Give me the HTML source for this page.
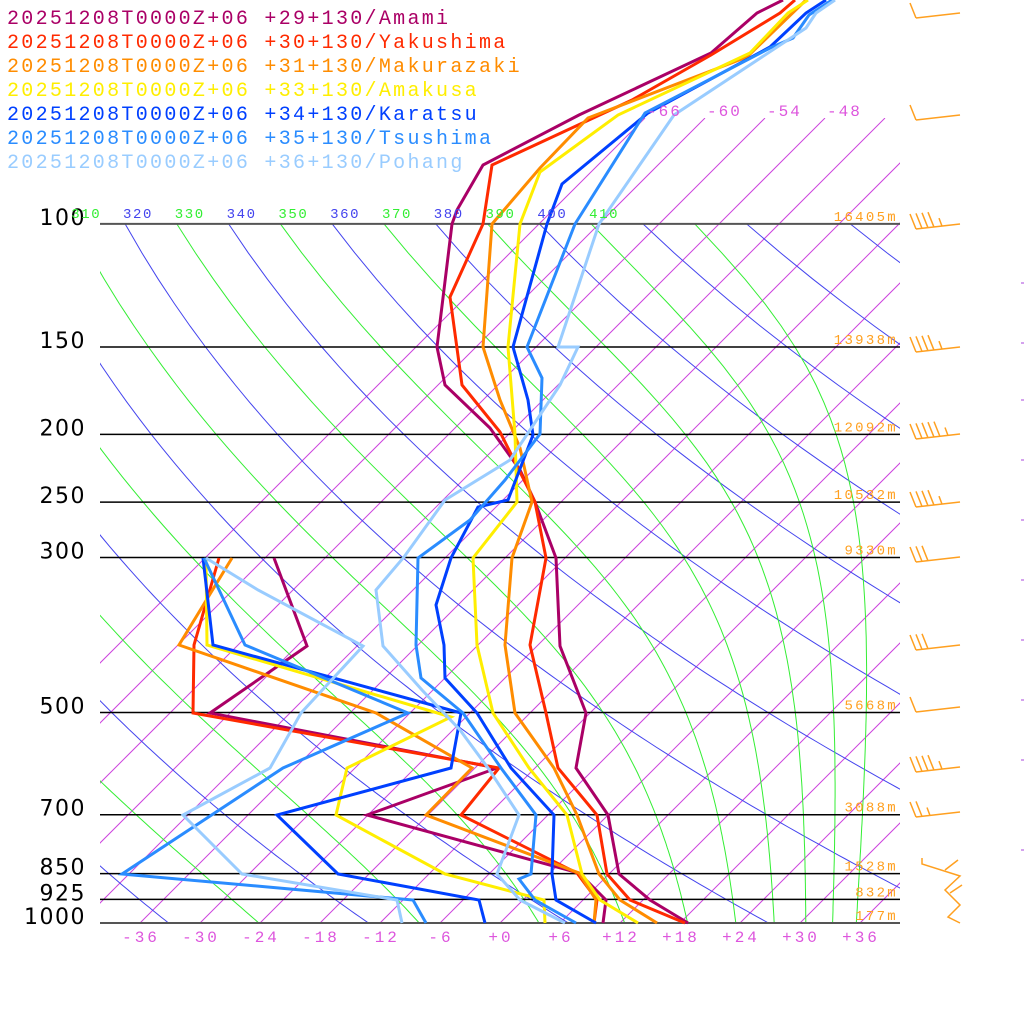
<!DOCTYPE html>
<html><head><meta charset="utf-8"><style>
html,body{margin:0;padding:0;background:#fff;width:1024px;height:1024px;overflow:hidden}
svg{display:block}
</style></head><body>
<svg id="s" width="1024" height="1024" xmlns="http://www.w3.org/2000/svg">
<defs>
<clipPath id="c1"><rect x="100" y="118" width="800" height="805"/></clipPath>
<clipPath id="c2"><rect x="100" y="224" width="800" height="699"/></clipPath>
</defs>
<g id="grid"></g>
<g id="data" fill="none" stroke-width="3" stroke-linejoin="miter"></g>
<g id="txt"></g>
</svg>
<script>
(function(){
var NS="http://www.w3.org/2000/svg";
var B=303.6, Y0=923;
function yp(p){return Y0-B*Math.log(1000/p);}
function xt(T,y){return 500+10*T+(Y0-y);}
function el(parent,tag,attrs,text){var e=document.createElementNS(NS,tag);for(var k in attrs)e.setAttribute(k,attrs[k]);if(text!==undefined)e.textContent=text;parent.appendChild(e);return e;}
var grid=document.getElementById('grid'),data=document.getElementById('data'),txt=document.getElementById('txt');
// isotherms
var gi=el(grid,'g',{'clip-path':'url(#c1)',stroke:'#cc44dd','stroke-width':'1',fill:'none'});
for(var T=-66;T<=60;T+=6){el(gi,'line',{x1:xt(T,923),y1:923,x2:xt(T,118),y2:118});}
// dry adiabats
var gd=el(grid,'g',{'clip-path':'url(#c2)',stroke:'#4444ee','stroke-width':'1',fill:'none'});
for(var th=200;th<=520;th+=20){var pts=[];for(var p=100;p<=1000;p+=10){var Tc=th*Math.pow(p/1000,0.2857)-273.15;var y=yp(p);pts.push(xt(Tc,y).toFixed(1)+','+y.toFixed(1));}el(gd,'polyline',{points:pts.join(' ')});}
// moist adiabats
var gm=el(grid,'g',{'clip-path':'url(#c2)',stroke:'#33ee33','stroke-width':'1',fill:'none'});
function es(Tc){return 6.112*Math.exp(17.67*Tc/(Tc+243.5));}
for(var th=190;th<=430;th+=20){var Tk=th*Math.pow(0.1,0.2857);var p=100;var pts=[];var Rd=287,Cp=1005,Lv=2.5e6,eps=0.622;
 while(p<=1000){var y=yp(p);pts.push(xt(Tk-273.15,y).toFixed(1)+','+y.toFixed(1));
  var dp=2;for(var k=0;k<5;k++){var e=es(Tk-273.15);var rs=eps*e/(p-e);var dTdp=(1/p)*(Rd*Tk+Lv*rs)/(Cp+Lv*Lv*rs*eps/(Rd*Tk*Tk));Tk+=dTdp*dp;p+=dp;}}
 el(gm,'polyline',{points:pts.join(' ')});}
// pressure lines
var P=[[100,'100'],[150,'150'],[200,'200'],[250,'250'],[300,'300'],[500,'500'],[700,'700'],[850,'850'],[925,'925'],[1000,'1000']];
P.forEach(function(a){var y=yp(a[0]);var w=(a[0]==100||a[0]==1000)?2:1.5;el(grid,'line',{x1:100,x2:900,y1:y,y2:y,stroke:(w==2?'#555':'#000'),'stroke-width':w});
 el(txt,'text',{x:86,y:y+1,'text-anchor':'end','font-family':'DejaVu Sans, sans-serif','font-size':'22','letter-spacing':'1.5',fill:'#000'},a[1]);});
// theta labels
var tl=[[310,'#33ee33'],[320,'#4444ee'],[330,'#33ee33'],[340,'#4444ee'],[350,'#33ee33'],[360,'#4444ee'],[370,'#33ee33'],[380,'#4444ee'],[390,'#33ee33'],[400,'#4444ee'],[410,'#33ee33']];
tl.forEach(function(a){var Tc=a[0]*Math.pow(0.1,0.2857)-273.15;var x=xt(Tc,224)-2;el(txt,'text',{x:x,y:218,'font-family':'Liberation Mono, monospace','font-size':'14','letter-spacing':'1.6',fill:a[1]},String(a[0]));});
// isotherm labels
[-66,-60,-54,-48].forEach(function(T){el(txt,'text',{x:xt(T,118)+2,y:116,'font-family':'Liberation Mono, monospace','font-size':'16','letter-spacing':'2',fill:'#dd55dd'},String(T));});
// bottom labels
for(var T=-36;T<=36;T+=6){el(txt,'text',{x:500+10*T+1,y:942,'text-anchor':'middle','font-family':'Liberation Mono, monospace','font-size':'16','letter-spacing':'3',fill:'#dd55dd'},(T>=0?'+':'')+T);}
// heights
[[100,'16405m'],[150,'13938m'],[200,'12092m'],[250,'10532m'],[300,'9330m'],[500,'5668m'],[700,'3088m'],[850,'1528m'],[925,'832m'],[1000,'177m']].forEach(function(a){el(txt,'text',{x:898,y:yp(a[0])-3,'text-anchor':'end','font-family':'Liberation Mono, monospace','font-size':'14','letter-spacing':'2.3',fill:'#ffa020'},a[1]);});
// data
var S=[
['#aa0066',[[783,0],[757,13],[711,53],[579,115],[483,165],[457,210],[452,224],[437,347],[445,385],[490,428],[520,470],[535,502],[556,558],[560,646],[586,713],[576,768],[608,815],[619,874],[650,900],[688,923]],
 [[274,558],[307,646],[210,713],[497,768],[367,815],[579,873],[606,900],[603,923]]],
['#ff2a00',[[795,0],[780,13],[711,55],[632,100],[492,165],[483,224],[450,297],[462,385],[500,432],[535,502],[546,558],[530,645],[546,713],[558,768],[597,815],[607,874],[630,900],[685,923]],
 [[219,558],[194,645],[193,713],[499,768],[461,815],[577,873],[597,900],[594,923]]],
['#ff8c00',[[806,0],[747,57],[588,118],[540,168],[492,224],[483,347],[500,400],[520,448],[532,502],[512,558],[505,645],[515,713],[554,768],[577,815],[599,874],[620,900],[657,923]],
 [[232,558],[179,645],[376,713],[472,768],[426,815],[579,873],[596,900],[594,923]]],
['#ffee00',[[808,0],[788,13],[750,53],[618,115],[540,172],[520,224],[508,347],[515,434],[517,502],[473,558],[477,645],[493,713],[529,768],[567,815],[582,874],[600,900],[638,923]],
 [[206,558],[207,645],[451,717],[347,768],[336,815],[445,874],[544,900],[545,923]]],
['#0040ff',[[826,0],[806,13],[770,47],[648,113],[562,184],[547,224],[513,347],[528,400],[533,435],[508,500],[478,507],[451,558],[436,605],[444,645],[445,678],[477,713],[511,768],[554,815],[552,874],[556,900],[596,923]],
 [[203,558],[213,645],[461,713],[451,768],[277,815],[338,874],[479,900],[485,923]]],
['#2a8cff',[[832,0],[809,15],[793,38],[770,48],[645,113],[575,224],[527,347],[542,378],[540,434],[505,480],[470,520],[418,558],[416,645],[421,678],[463,713],[501,768],[536,815],[531,874],[519,879],[535,900],[576,923]],
 [[204,558],[245,645],[408,713],[283,768],[122,874],[413,900],[426,923]]],
['#99ccff',[[835,0],[816,13],[806,28],[674,115],[599,224],[558,347],[578,347],[560,385],[510,460],[445,500],[404,557],[376,590],[383,646],[422,690],[460,730],[488,768],[519,815],[497,874],[520,900],[565,923]],
 [[206,558],[258,590],[363,646],[301,713],[270,768],[183,815],[242,874],[397,900],[402,923]]]
];
S.forEach(function(s){el(data,'polyline',{points:s[1].map(function(p){return p.join(',')}).join(' '),stroke:s[0]});el(data,'polyline',{points:s[2].map(function(p){return p.join(',')}).join(' '),stroke:s[0]});});
// legend
var L=['+29+130/Amami','+30+130/Yakushima','+31+130/Makurazaki','+33+130/Amakusa','+34+130/Karatsu','+35+130/Tsushima','+36+130/Pohang'];
L.forEach(function(t,i){el(txt,'text',{x:7,y:24+i*24,'font-family':'Liberation Mono, monospace','font-size':'20','letter-spacing':'2.3',fill:S[i][0]},'20251208T0000Z+06 '+t);});
// wind barbs
var gw=el(grid,'g',{stroke:'#ffa020','stroke-width':'1.5',fill:'none'});
function barb(y,n,half){var x0=916,y0=y+5;el(gw,'line',{x1:x0,y1:y0,x2:960,y2:y});
 for(var i=0;i<n;i++){var bx=x0+i*6,by=y0-i*0.6;el(gw,'line',{x1:bx,y1:by,x2:bx-6,y2:by-15});}
 if(half){var bx=x0+n*6+2,by=y0-(n*6+2)*0.11;el(gw,'line',{x1:bx,y1:by,x2:bx-3,y2:by-8});}}
barb(13,1,false);barb(115,1,false);barb(224,4,true);barb(347,4,true);barb(434,5,true);barb(502,4,true);barb(557,3,false);barb(645,3,false);barb(707,1,false);barb(767,4,true);barb(812,2,true);
el(gw,'polyline',{points:'922,858 922,864 960,876 945,890 960,905 948,917 960,923'});
el(gw,'polyline',{points:'945,870 958,860'});el(gw,'polyline',{points:'950,893 962,885'});
// right edge ticks
var gt=el(grid,'g',{stroke:'#aa44dd','stroke-width':'1'});
[283,343,400,460,520,580,640,700,760,850].forEach(function(y){el(gt,'line',{x1:1021,x2:1024,y1:y,y2:y});});
})();
</script>
</body></html>
